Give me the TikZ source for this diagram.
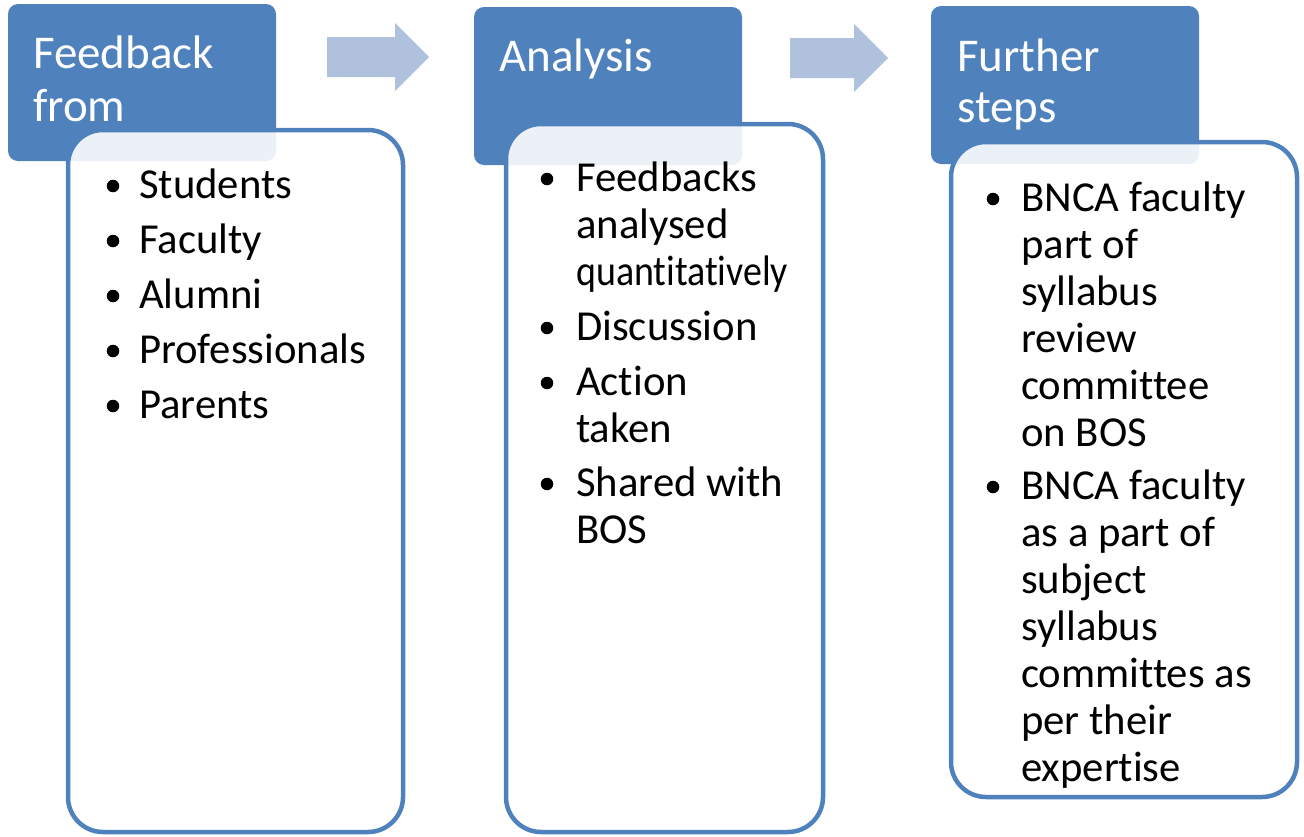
\documentclass[tikz,border=0pt]{standalone}
\usepackage{fontspec}
\usepackage{graphicx}
\setmainfont{Carlito}[Ligatures=CommonOff]
\definecolor{accent}{RGB}{79,129,189}
\definecolor{arrowblue}{RGB}{176,193,222}
\tikzset{
  x=1pt, y=-1pt,
  header/.style={fill=accent, rounded corners=10pt},
  bodybox/.style={draw=accent, line width=4.5pt, fill=white, fill opacity=0.89, rounded corners=35pt},
  blockarrow/.style={fill=arrowblue},
  headtext/.style={anchor=base west, inner sep=0pt, text=white, font=\fontsize{47}{52}\selectfont},
  bodytext/.style={anchor=base west, inner sep=0pt, text=black, font=\fontsize{42.7}{47}\selectfont},
  bulletdot/.style={fill=black, circle, inner sep=0pt, minimum size=12.5pt}
}
\begin{document}
\begin{tikzpicture}
\useasboundingbox (0,0) rectangle (1304,836);
% block arrows
\fill[blockarrow] (327,37) -- (395,37) -- (395,23) -- (429,57) -- (395,91) -- (395,77) -- (327,77) -- cycle;
\fill[blockarrow] (790,38) -- (854,38) -- (854,24) -- (888,58) -- (854,92) -- (854,78) -- (790,78) -- cycle;
% headers
\path[header] (8,4) rectangle (276,161);
\path[header] (474,7) rectangle (742,165);
\path[header] (931,6) rectangle (1199,164);
% bodies
\draw[bodybox] (68,130) rectangle (403,832);
\draw[bodybox] (506,124) rectangle (823,832);
\draw[bodybox] (951,142) rectangle (1297,797);
% header texts
\node[headtext] (h1a) at (33,68) {Feedback};
\node[headtext] (h1b) at (33,121) {from};
\node[headtext] (h2a) at (499,71) {Analysis};
\node[headtext] (h3a) at (957,71) {Further};
\node[headtext] (h3b) at (957,122) {steps};
% panel 1
\foreach \y/\t [count=\i] in {198/Students, 253/Faculty, 308/Alumni, 363/Professionals, 418/Parents}{
  \node[bulletdot] (pa\i) at (113,\y-12) {};
  \node[bodytext] (ta\i) at (139,\y) {\t};
}
% panel 2
\node[bulletdot] (pb1) at (547,179) {};
\node[bodytext] (tb1) at (576,191) {Feedbacks};
\node[bodytext] (tb2) at (576,238) {analysed};
\node[bodytext] (tb3) at (576,285) {\resizebox{212pt}{\height}{quantitatively}};
\node[bulletdot] (pb2) at (547,328) {};
\node[bodytext] (tb4) at (576,340) {Discussion};
\node[bulletdot] (pb3) at (547,383) {};
\node[bodytext] (tb5) at (576,395) {Action};
\node[bodytext] (tb6) at (576,442) {taken};
\node[bulletdot] (pb4) at (547,484) {};
\node[bodytext] (tb7) at (576,496) {Shared with};
\node[bodytext] (tb8) at (576,543) {BOS};
% panel 3
\node[bulletdot] (pc1) at (993,199) {};
\node[bodytext] (tc1) at (1021,211) {BNCA faculty};
\node[bodytext] (tc2) at (1021,258) {part of};
\node[bodytext] (tc3) at (1021,305) {syllabus};
\node[bodytext] (tc4) at (1021,352) {review};
\node[bodytext] (tc5) at (1021,399) {committee};
\node[bodytext] (tc6) at (1021,446) {on BOS};
\node[bulletdot] (pc2) at (993,487) {};
\node[bodytext] (tc7) at (1021,499) {BNCA faculty};
\node[bodytext] (tc8) at (1021,546) {as a part of};
\node[bodytext] (tc9) at (1021,593) {subject};
\node[bodytext] (tc10) at (1021,640) {syllabus};
\node[bodytext] (tc11) at (1021,687) {committes as};
\node[bodytext] (tc12) at (1021,734) {per their};
\node[bodytext] (tc13) at (1021,781) {expertise};
\end{tikzpicture}
\end{document}
